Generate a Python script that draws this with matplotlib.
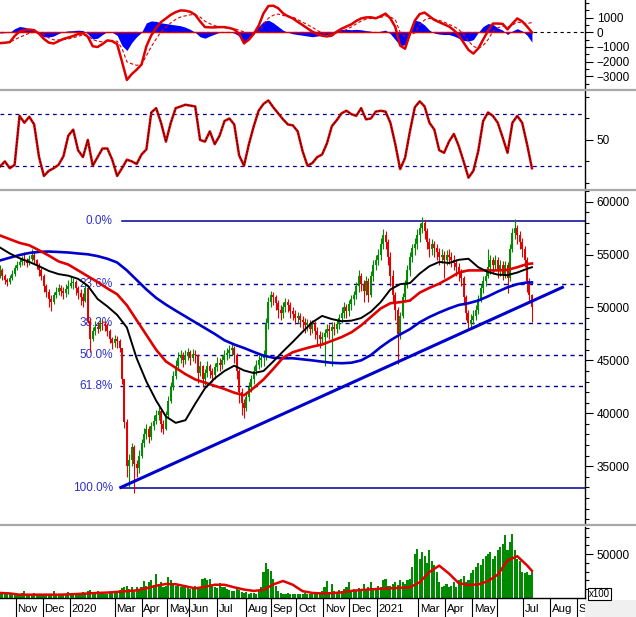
import numpy as np
import matplotlib
matplotlib.use('Agg')
import matplotlib.pyplot as plt
from matplotlib.lines import Line2D
from matplotlib.patches import Rectangle

# ---------------- data (prices in hundreds of VND, x in trading days) ----------------
close = [
535,530,526,524,528,532,537,540,543,545,
544,542,546,550,545,540,535,530,520,515,
508,505,512,515,518,516,514,517,520,523,
524,518,514,510,506,518,487,470,478,482,
480,485,484,483,478,470,466,470,468,462,
432,392,350,356,368,352,348,360,372,380,
385,378,388,393,398,402,390,385,398,412,
425,435,445,452,455,450,455,458,452,456,
455,438,445,432,438,445,440,436,444,448,
446,450,455,457,460,462,455,440,420,410,
405,415,425,432,440,446,450,452,455,485,
505,512,510,504,498,495,500,505,502,497,
494,490,492,488,486,483,485,480,484,478,
474,470,472,476,480,478,482,480,484,490,
495,500,497,503,508,512,520,530,522,516,
525,512,530,540,545,550,560,568,562,548,
530,512,498,475,492,510,522,535,548,556,
560,568,575,580,572,562,555,560,556,552,
548,550,545,550,548,545,542,538,533,528,
510,495,485,488,492,498,508,518,525,530,
538,545,540,545,535,540,532,540,528,555,
570,575,568,562,555,545,525,512,500]
high = [
540,537,532,528,531,535,540,544,547,549,
552,547,550,555,552,546,542,537,532,522,
517,512,515,519,522,521,519,522,526,530,
528,526,520,517,514,522,520,490,482,487,
486,489,488,487,485,480,472,474,473,470,
462,432,395,362,372,370,356,365,376,386,
390,388,392,398,403,406,404,394,402,416,
430,440,450,458,460,458,460,462,460,461,
460,456,449,446,442,449,447,443,448,453,
452,455,460,462,465,466,464,457,442,424,
414,420,430,436,445,450,455,456,460,490,
510,516,515,512,507,502,505,509,508,505,
500,498,496,495,492,490,489,488,488,487,
482,478,477,480,484,484,486,486,488,494,
500,505,503,507,512,516,524,535,533,526,
530,528,534,545,550,555,566,574,572,565,
552,535,515,500,496,514,526,540,552,560,
566,574,580,585,583,575,566,565,563,560,
556,555,553,554,555,552,550,546,542,536,
530,512,498,494,498,502,512,522,530,536,
555,550,548,550,548,545,544,544,543,560,
575,584,578,572,566,558,548,528,513]
low = [
528,526,522,520,522,526,530,535,538,540,
540,538,540,544,541,536,530,526,515,510,
500,497,503,509,512,511,508,510,513,518,
517,512,508,502,500,505,485,458,468,474,
476,478,479,478,473,466,461,463,462,458,
428,386,340,330,350,325,340,344,358,368,
376,372,375,384,390,394,382,380,384,396,
410,422,432,443,448,444,447,450,446,449,
448,429,435,425,427,434,433,430,432,440,
440,442,447,450,452,455,448,432,410,398,
396,402,412,420,428,436,442,444,445,450,
480,500,502,498,490,488,490,496,496,490,
488,484,485,482,480,476,478,474,476,470,
465,462,466,445,472,470,445,474,476,480,
485,490,490,492,498,502,508,515,516,505,
512,505,510,525,535,540,545,555,555,540,
520,505,488,447,470,490,505,518,530,543,
550,555,562,570,565,555,548,550,548,545,
540,542,528,540,541,538,535,530,525,520,
502,488,480,480,484,488,494,505,514,520,
528,532,532,535,528,530,526,528,514,525,
552,565,560,555,548,538,515,505,486]
volume_k = [
5,4,6,4,5,3.5,4,5,4,6,
8,5,4,4,6,5,4,3.5,5,4,
4,5,8,4,3.5,4,5,4,7,5,
4,5,4,6,7,5,8,9,6,5,
8,6,5,4,5,6,7,8,7,9,
11,12,14,10,12,9,13,10,12,19,
14,18,20,15,27,16,18,12,14,24,
20,17,14,16,12,15,13,11,10,12,
14,10,12,22,23,20,22,14,12,11,
17,13,12,10,9,8,8,10,9,7,
6,7,5,6,6,5,8,12,30,40,
33,31,22,14,8,6,5,5,6,5,
4,5,4,5,4,6,5,4,5,6,
5,6,8,12,19,7,16,8,6,9,
8,10,12,18,9,10,8,11,9,16,
10,12,18,11,10,14,12,20,22,14,
14,16,18,15,20,18,16,20,22,35,
50,56,45,52,48,40,55,42,38,30,
18,12,14,16,12,14,18,12,20,22,
25,18,20,28,32,35,40,38,45,48,
50,52,45,48,55,58,62,72,55,64,
73,55,45,42,30,28,30,26,30]

macd = [
-740,-710,-670,-250,60,150,190,150,-100,-450,
-700,-760,-600,-450,-350,-250,-120,-60,-300,-950,
-1000,-800,-550,-600,-800,-2000,-3250,-2850,-2550,-2200,
-950,-200,300,700,950,1200,1380,1500,1480,1400,
1200,750,360,340,340,360,360,300,200,-100,
-750,-500,-100,450,1300,1800,1820,1650,1300,1100,
950,720,500,270,50,-120,-230,-280,-220,50,
250,400,550,780,950,1020,1030,960,1100,1280,
950,370,-900,-1120,-100,800,1250,1350,1100,850,
700,550,400,150,-200,-700,-1200,-1450,-1100,-500,
100,600,600,580,200,600,950,750,400,0]
macd_hist = [
-50,-20,0,250,400,350,250,150,-100,-300,
-320,-250,-80,50,100,120,150,120,-100,-450,
-400,-150,50,0,-200,-900,-1240,-700,-300,0,
650,780,750,650,600,550,500,450,350,200,
0,-300,-400,-250,-120,0,50,30,-50,-250,
-780,-450,-50,400,750,830,650,400,150,0,
-100,-150,-200,-250,-300,-250,-200,-150,-100,100,
200,200,180,200,180,120,80,0,80,150,
-100,-500,-900,-850,100,830,750,500,150,-50,
-120,-150,-150,-250,-400,-550,-600,-500,0,400,
600,550,300,150,-150,100,250,100,-200,-670]
stoch = [
19,25,17,21,78,70,77,68,30,8,
14,17,21,31,55,62,38,30,50,20,
30,40,40,27,8,17,27,25,22,33,
39,82,87,70,48,70,87,89,91,90,
89,50,48,60,45,55,72,75,68,32,
20,45,66,84,92,96,88,81,74,68,
67,60,37,20,23,30,33,46,66,73,
81,84,80,78,87,74,75,83,84,83,
70,45,16,29,60,88,95,89,70,62,
38,35,48,57,43,25,6,14,37,72,
82,78,70,53,35,70,78,70,45,17]

ma_black = [556.6,551,546.5,543,539,534.5,531.5,530,527,520.5,508,501,493,481,452,430,412,397,391,393.5,
            409,423.6,433,440,445,440.5,438,440,449,458.5,467.5,477,486,492,489,487,487.5,490,496,505,
            517,522,523,532,539,543,542,545,546,538,533.5,531,530.5,533,536.5,538]
ma_red = [568,564.5,561,558.7,554,549,543.5,540.5,535,529.5,524,518,512.5,502,488,474,460,449,443,437,
          432,429,426,423,419.5,417,424,432,442,452.5,457.7,460.5,463,465,468.5,472,476.5,483,491,499,
          504,505,506.5,514,518.5,522.5,527.5,533,535,535,535,535,535.5,538,541,541.5]
ma_blue = [544.4,547,549.5,551.5,552.5,552.8,552.4,551.9,551,550.2,548.5,546,542.5,535,526,517,509,502.7,497,491.5,
           486,480.5,475,469,465,461.7,458,454.5,452.5,452,452,451,450,448.8,447.7,447.3,447.8,450,455,462.5,
           469,474.5,479.5,486,491,495.2,499,502.3,504,506.5,510.5,515,519,522,523.6,523.6]
vol_ma_k = [5.8,5.2,3.8,3.8,3.8,3.8,3.8,4.1,4.65,5.2,5.8,6.2,7.0,7.8,8.7,11,14,16,15.7,13.4,
            11,12.8,15.1,15.1,12.2,9.65,8.1,9.3,15.5,19.4,15.1,7.8,5.8,5.2,5.5,6.4,8.1,9.1,9.9,10.5,
            11,11.6,12.2,18,29.7,36.9,27.9,16.9,14.8,15.5,19.2,26.7,42.7,47.7,37.2,31]

trend_days = [99, 461]
trend_vals = [33000, 51900]
fib_levels = [0.0, 23.6, 38.2, 50.0, 61.8, 100.0]
fib_top, fib_bottom, fib_start = 58200, 32900, 99

month_labels = ['Nov','Dec','2020','Mar','Apr','May','Jun','Jul','Aug','Sep','Oct',
                'Nov','Dec','2021','Mar','Apr','May','','Jul','Aug','Sep']
month_days = [13,35,57,94,116,137,155,178,202,222,243,265,286,309,343,365,387,407,429,451,473]

# ---------------- figure ----------------
plt.rcParams['font.family'] = ['Liberation Sans', 'DejaVu Sans']
W, H = 636, 617
fig = plt.figure(figsize=(W / 100, H / 100), dpi=100)
fig.patch.set_facecolor('white')
XMAX = 479.5

RED = '#e00000'
GREEN = '#008a00'
BLUE = '#0000cc'
NAVY = '#000090'


def ax_at(x0, y0, x1, y1):
    return fig.add_axes([x0 / W, 1 - y1 / H, (x1 - x0) / W, (y1 - y0) / H])


def style(ax):
    ax.set_xlim(0, XMAX)
    for s in ['left', 'top', 'bottom']:
        ax.spines[s].set_visible(False)
    ax.spines['right'].set_linewidth(1.0)
    ax.yaxis.tick_right()
    ax.set_xticks([])
    ax.tick_params(axis='y', which='major', direction='out', length=5.5, width=0.8,
                   labelsize=8.5, pad=3)
    ax.tick_params(axis='y', which='minor', direction='out', length=3, width=0.8)


pdays = np.arange(len(close)) * 2
idays = np.arange(len(macd)) * 4
mdays = np.r_[np.arange(len(ma_black) - 1) * 8, 436]

# ---- MACD panel ----
ax1 = ax_at(0, 0, 585, 89)
style(ax1)
ax1.set_ylim(-3870, 2210)
macd_a = np.array(macd, float)
hist_a = np.array(macd_hist, float)
signal = macd_a - hist_a
ax1.axhline(0, color='black', lw=0.8, ls=(0, (3, 3)), zorder=1)
ax1.fill_between(idays, 0, hist_a, color='#0000ff', lw=0, zorder=2)
ax1.plot([0, idays[-1]], [0, 0], color=RED, lw=1.0, zorder=3)
ax1.plot(idays, signal, color=RED, lw=0.8, ls=(0, (3, 2)), zorder=3)
ax1.plot(idays, macd_a, color=RED, lw=1.8, zorder=4)
ax1.set_yticks([-3000, -2000, -1000, 0, 1000])
ax1.set_yticks(np.arange(-3500, 2001, 500), minor=True)

# ---- Stochastic panel ----
ax2 = ax_at(0, 91, 585, 188)
style(ax2)
ax2.set_ylim(-6, 107)
for lv in (20, 80):
    ax2.axhline(lv, color=NAVY, lw=0.9, ls=(0, (3, 3)), zorder=1)
ax2.plot(idays, stoch, color=RED, lw=1.8, zorder=3)
ax2.plot(idays, stoch, color='black', lw=0.6, ls=(0, (2, 2)), zorder=4)
ax2.set_yticks([50])
ax2.set_yticks([0, 25, 75, 100], minor=True)

# ---- Price panel ----
ax3 = ax_at(0, 191, 585, 523)
style(ax3)
ax3.set_ylim(29640, 60950)
c = np.array(close) * 100.0
hi = np.array(high) * 100.0
lo = np.array(low) * 100.0
op = np.r_[c[0], c[:-1]]
cols = np.where(c >= op, GREEN, RED)
ax3.vlines(pdays, lo, hi, colors=cols, lw=0.8, zorder=3)
ax3.vlines(pdays, np.minimum(op, c), np.maximum(op, c), colors=cols, lw=1.4, zorder=3)

fib_span = fib_top - fib_bottom
for lv in fib_levels:
    val = fib_top - lv / 100.0 * fib_span
    if lv in (0.0, 100.0):
        ax3.plot([fib_start + 1, XMAX], [val, val], color=NAVY, lw=1.1, zorder=2)
    else:
        ax3.plot([fib_start - 1, XMAX], [val, val], color=NAVY, lw=1.0,
                 ls=(0, (3, 3)), zorder=2)
    ax3.text(fib_start - 6.5, val, f'{lv:.1f}%', ha='right', va='center',
             color='#3030c8', fontsize=8.5, zorder=2)

ax3.plot(mdays, np.array(ma_blue) * 100, color=BLUE, lw=1.9, zorder=5)
ax3.plot(mdays, np.array(ma_red) * 100, color=RED, lw=1.9, zorder=5)
ax3.plot(mdays, np.array(ma_black) * 100, color='black', lw=1.4, zorder=6)
ax3.plot(trend_days, trend_vals, color=BLUE, lw=2.2, zorder=5)
ax3.set_yticks(np.arange(35000, 60001, 5000))
ax3.set_yticks(np.arange(30000, 61001, 1000), minor=True)

# ---- Volume panel ----
ax4 = ax_at(0, 527, 585, 598)
style(ax4)
ax4.spines['bottom'].set_visible(True)
ax4.spines['bottom'].set_linewidth(1.0)
ax4.set_ylim(0, 81000)
vol = np.array(volume_k) * 1000
ax4.bar(pdays, vol, width=1.7, color=GREEN, lw=0, zorder=2)
ax4.plot(mdays, np.array(vol_ma_k) * 1000, color=RED, lw=1.8, zorder=3)
ax4.set_yticks([50000])
ax4.set_yticks(np.arange(10000, 80001, 10000), minor=True)

# ---- Date strip ----
ax5 = ax_at(0, 598, 585, 617)
ax5.set_xlim(0, XMAX)
ax5.set_ylim(0, 1)
ax5.axis('off')
for d, lab in zip(month_days, month_labels):
    ax5.plot([d, d], [0, 1], color='black', lw=0.8, clip_on=True)
    ax5.text(d + 1.4, 0.42, lab, ha='left', va='center', fontsize=8.2, clip_on=True)

# separators and right-corner details
for yy in (89.5, 189.5, 524.5):
    fig.add_artist(Line2D([0, 1], [1 - yy / H, 1 - yy / H], color='#a8a8a8', lw=1.6))
fig.add_artist(Rectangle((585 / W, 0), (W - 585) / W, 17 / H, color='#f0f0f0', lw=0))
fig.text(589 / W, 1 - 594 / H, 'x100', fontsize=7, ha='left', va='center',
         bbox=dict(boxstyle='square,pad=0.15', fc='white', ec='black', lw=0.8))

fig.savefig('out.png', dpi=100, facecolor='white')
